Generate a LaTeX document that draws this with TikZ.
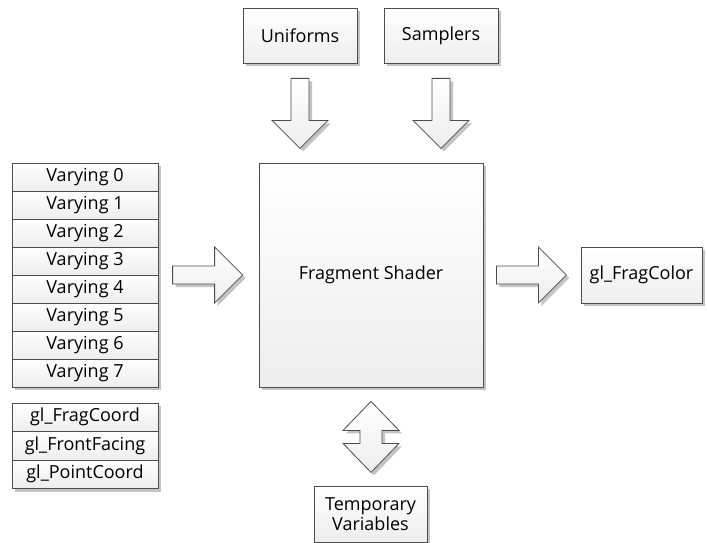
\documentclass[tikz,border=0pt]{standalone}
\usepackage{fontspec}
\setmainfont{Open Sans}
\usepackage{tikz}
\usetikzlibrary{positioning,calc,shadows}
\definecolor{bord}{HTML}{4D4D4D}
\definecolor{ombre}{HTML}{C4C4C4}
\definecolor{fondbas}{HTML}{EDEDED}

\begin{document}
\begin{tikzpicture}[x=1pt,y=1pt]
\tikzstyle{ombree}=[drop shadow={shadow xshift=3pt,shadow yshift=-3pt,fill=ombre,opacity=1}]
\tikzstyle{boite}=[draw=bord,line width=0.8pt,ombree,top color=white,bottom color=fondbas,
  text=black,font=\fontsize{18}{20}\selectfont,inner sep=2pt,align=center]
\tikzstyle{ligne}=[boite,minimum width=146,minimum height=28]
\tikzstyle{fleche}=[draw=bord,line width=0.8pt,ombree,top color=white,bottom color=fondbas]
\tikzset{
  blocfleche/.pic={\path[fleche] (0,-9)--(42,-9)--(42,-28)--(70,0)--(42,28)--(42,9)--(0,9)--cycle;},
  doublefleche/.pic={\path[fleche] (0,0)--(28,-29)--(11,-29)--(11,-42)--(28,-42)--(0,-71)
    --(-28,-42)--(-11,-42)--(-11,-29)--(-28,-29)--cycle;}
}
\def\HauteurLigne{28}
\def\HauteurGl{28.5}
\useasboundingbox (0,0) rectangle (707,-543);
% entrees du haut
\node[boite,minimum width=114,minimum height=55] (uni) at (300,-35.5) {Uniforms};
\node[boite,minimum width=114,minimum height=55] (samp) at (441,-35.5) {Samplers};
% le shader
\node[boite,minimum width=224,minimum height=224] (shader) at (371,-275) {Fragment Shader};
\node[boite,minimum width=121,minimum height=56] (color) at (641.5,-275) {gl\_FragColor};
\node[boite,minimum width=113,minimum height=56] (temp) at (370.5,-514) {Temporary\\Variables};
% les varyings
\foreach \i in {0,...,7}{
  \node[ligne] (v\i) at (85,{-163-\HauteurLigne/2-\i*\HauteurLigne}) {Varying \i};
}
\foreach \nom/\texte [count=\i from 0] in {coord/gl\_FragCoord,front/gl\_FrontFacing,point/gl\_PointCoord}{
  \node[ligne,minimum height=\HauteurGl] (\nom) at (85,{-403-\HauteurGl/2-\i*\HauteurGl}) {\texte};
}
% les fleches
\pic[rotate=-90] at ($(uni.south)+(0,-15)$) {blocfleche};
\pic[rotate=-90] at ($(samp.south)+(0,-15)$) {blocfleche};
\pic at ($(shader.west)+(-86,0)$) {blocfleche};
\pic at ($(shader.east)+(13,0)$) {blocfleche};
\pic at ($(shader.south)+(0,-14)$) {doublefleche};
\end{tikzpicture}
\end{document}
